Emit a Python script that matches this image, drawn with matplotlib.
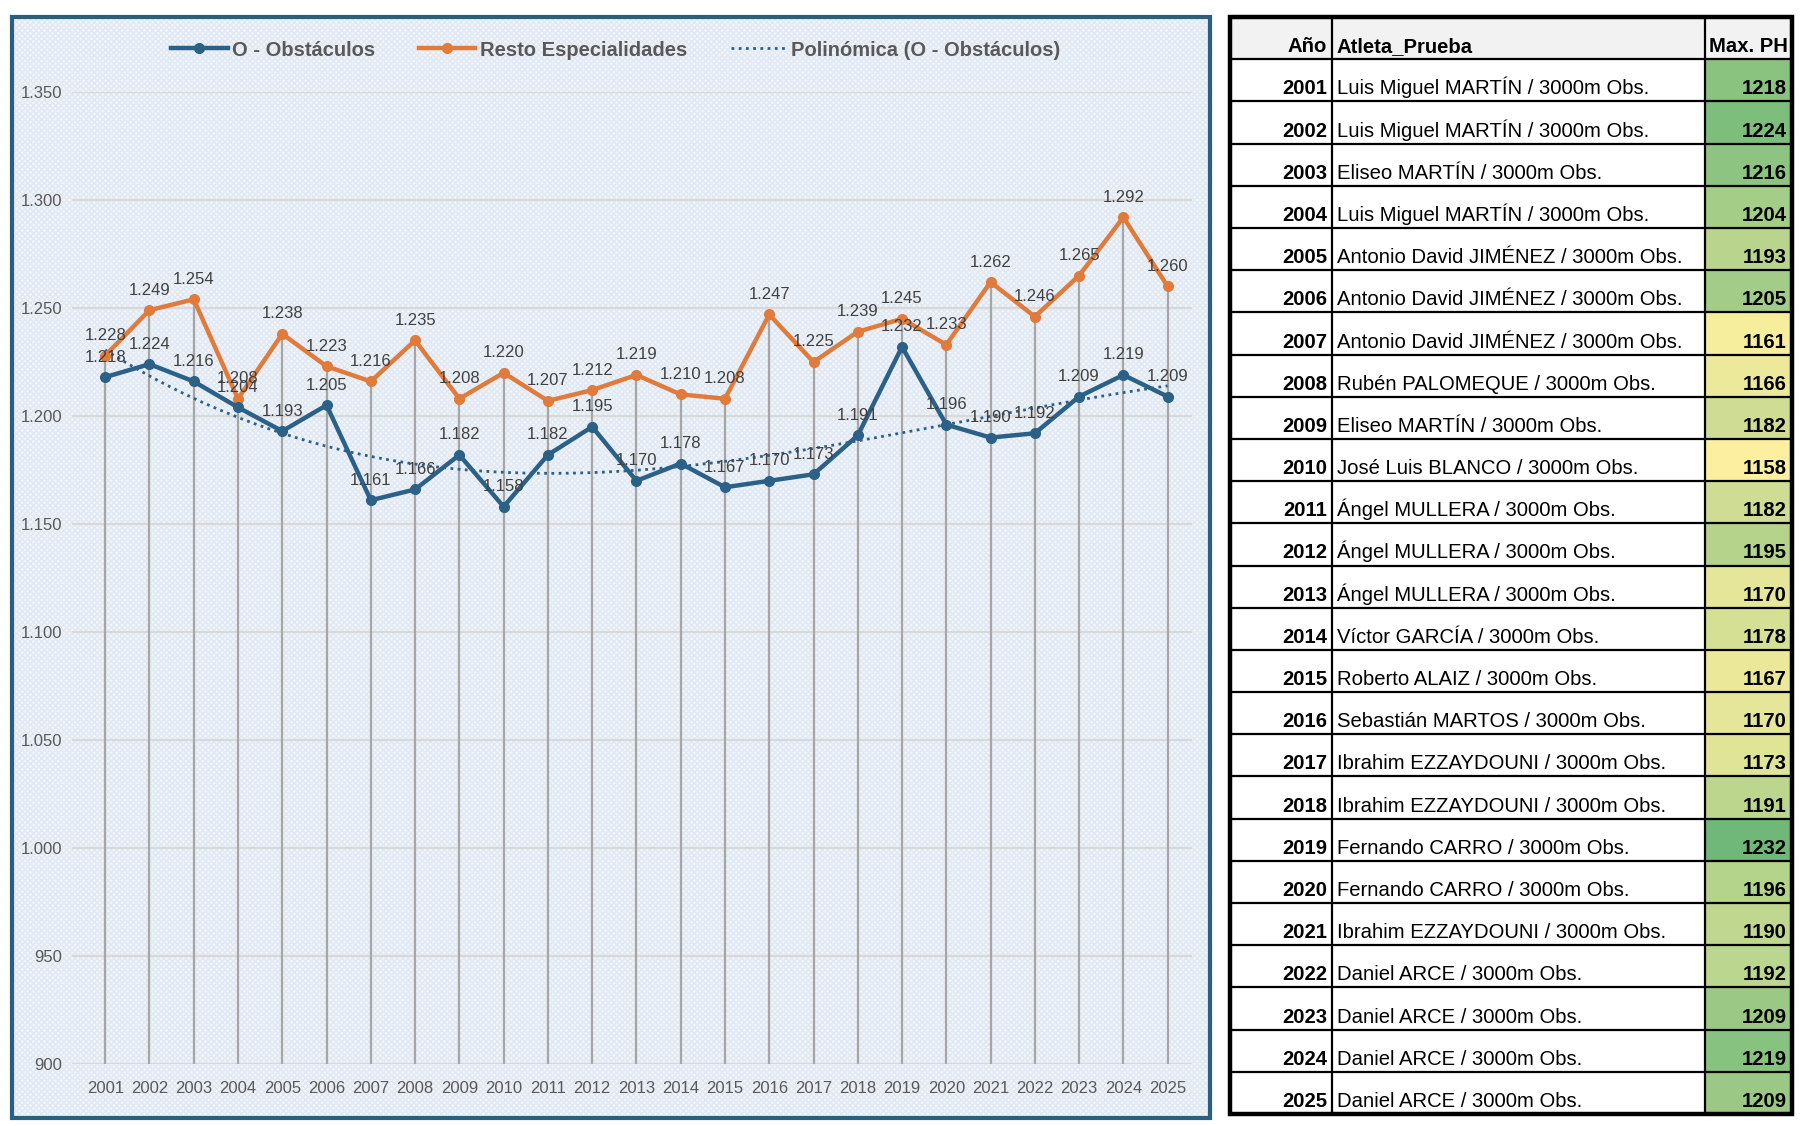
import numpy as np
import matplotlib.pyplot as plt
from matplotlib.patches import Rectangle
from matplotlib.lines import Line2D
from matplotlib.colors import to_rgb
from matplotlib.ticker import FuncFormatter

plt.rcParams['font.family'] = ['Liberation Sans', 'DejaVu Sans']

# Data
years = list(range(2001, 2026))
obstaculos = [1218, 1224, 1216, 1204, 1193, 1205, 1161, 1166, 1182, 1158,
              1182, 1195, 1170, 1178, 1167, 1170, 1173, 1191, 1232, 1196,
              1190, 1192, 1209, 1219, 1209]
resto = [1228, 1249, 1254, 1208, 1238, 1223, 1216, 1235, 1208, 1220,
         1207, 1212, 1219, 1210, 1208, 1247, 1225, 1239, 1245, 1233,
         1262, 1246, 1265, 1292, 1260]
atletas = [
    "Luis Miguel MARTÍN / 3000m Obs.",
    "Luis Miguel MARTÍN / 3000m Obs.",
    "Eliseo MARTÍN / 3000m Obs.",
    "Luis Miguel MARTÍN / 3000m Obs.",
    "Antonio David JIMÉNEZ / 3000m Obs.",
    "Antonio David JIMÉNEZ / 3000m Obs.",
    "Antonio David JIMÉNEZ / 3000m Obs.",
    "Rubén PALOMEQUE / 3000m Obs.",
    "Eliseo MARTÍN / 3000m Obs.",
    "José Luis BLANCO / 3000m Obs.",
    "Ángel MULLERA / 3000m Obs.",
    "Ángel MULLERA / 3000m Obs.",
    "Ángel MULLERA / 3000m Obs.",
    "Víctor GARCÍA / 3000m Obs.",
    "Roberto ALAIZ / 3000m Obs.",
    "Sebastián MARTOS / 3000m Obs.",
    "Ibrahim EZZAYDOUNI / 3000m Obs.",
    "Ibrahim EZZAYDOUNI / 3000m Obs.",
    "Fernando CARRO / 3000m Obs.",
    "Fernando CARRO / 3000m Obs.",
    "Ibrahim EZZAYDOUNI / 3000m Obs.",
    "Daniel ARCE / 3000m Obs.",
    "Daniel ARCE / 3000m Obs.",
    "Daniel ARCE / 3000m Obs.",
    "Daniel ARCE / 3000m Obs.",
]
legend_labels = ["O - Obstáculos", "Resto Especialidades", "Polinómica (O - Obstáculos)"]
table_header = ["Año", "Atleta_Prueba", "Max. PH"]

BLUE = '#2C6187'
ORANGE = '#E07B3C'
W, H = 1806, 1126


def thousands(v):
    return f"{int(round(v)):,}".replace(',', '.')


fig = plt.figure(figsize=(W / 100, H / 100), dpi=100)

# background layer (pixel coordinates, y down)
bg = fig.add_axes([0, 0, 1, 1])
bg.set_xlim(0, W)
bg.set_ylim(H, 0)
bg.axis('off')

bg.add_patch(Rectangle((12, 17), 1198, 1101, facecolor='#F1F5FA',
                       edgecolor='none', zorder=0))
bg.add_patch(Rectangle((12, 17), 1198, 1101, facecolor='none', hatch='xxxxxx',
                       edgecolor='#E0E8F3', linewidth=0, zorder=0.5))
bg.add_patch(Rectangle((12, 17), 1198, 1101, facecolor='none',
                       edgecolor='#2C5F7F', linewidth=3, zorder=1))

# table
t_left, c1, c2, t_right = 1230, 1332, 1705, 1792
t_top, t_bot = 17, 1114
n_rows = len(years) + 1
rh = (t_bot - t_top) / n_rows

vmin, vmax = min(obstaculos), max(obstaculos)
c_low, c_high = np.array(to_rgb('#FCEF9F')), np.array(to_rgb('#6FB879'))

bg.add_patch(Rectangle((t_left, t_top), t_right - t_left, rh,
                       facecolor='#F2F2F2', edgecolor='none'))
for i, v in enumerate(obstaculos):
    f = (v - vmin) / (vmax - vmin)
    col = (1 - f) * c_low + f * c_high
    bg.add_patch(Rectangle((c2, t_top + (i + 1) * rh), t_right - c2, rh,
                           facecolor=col, edgecolor='none'))

for r in range(1, n_rows):
    y = t_top + r * rh
    bg.plot([t_left, t_right], [y, y], color='black', lw=1.6)
for xv in (c1, c2):
    bg.plot([xv, xv], [t_top, t_bot], color='black', lw=1.6)
bg.add_patch(Rectangle((t_left, t_top), t_right - t_left, t_bot - t_top,
                       facecolor='none', edgecolor='black', linewidth=3.2))

fs_tab = 14.6
y0 = t_top + rh - 7
bg.text(c1 - 5, y0, table_header[0], ha='right', va='baseline',
        fontsize=fs_tab, fontweight='bold')
bg.text(c1 + 5, y0, table_header[1], ha='left', va='baseline',
        fontsize=fs_tab, fontweight='bold')
bg.text(t_right - 4, y0, table_header[2], ha='right', va='baseline',
        fontsize=fs_tab, fontweight='bold')
for i, (yr, name, v) in enumerate(zip(years, atletas, obstaculos)):
    yb = t_top + (i + 2) * rh - 7
    bg.text(c1 - 5, yb, str(yr), ha='right', va='baseline',
            fontsize=fs_tab, fontweight='bold')
    bg.text(c1 + 5, yb, name, ha='left', va='baseline', fontsize=fs_tab)
    bg.text(t_right - 5, yb, str(v), ha='right', va='baseline',
            fontsize=fs_tab, fontweight='bold')

# chart
ax = fig.add_axes([72 / W, 1 - 1064 / H, 1120 / W, 972 / H])
ax.set_facecolor('none')
x = np.arange(len(years))
ax.set_xlim(-0.75, len(years) - 0.45)
ax.set_ylim(900, 1350)

ax.set_yticks(range(900, 1351, 50))
ax.yaxis.set_major_formatter(FuncFormatter(lambda v, p: thousands(v)))
ax.set_xticks(x)
ax.set_xticklabels([str(y) for y in years])
ax.tick_params(axis='both', length=0, labelsize=12, labelcolor='#595959')
ax.tick_params(axis='x', pad=12)
ax.tick_params(axis='y', pad=7)
ax.grid(axis='y', color='#D9D9D9', lw=1.6)
ax.set_axisbelow(True)
for s in ax.spines.values():
    s.set_visible(False)

ax.vlines(x, 900, np.maximum(obstaculos, resto), color='#A6A6A6', lw=1.6, zorder=1)

coef = np.polyfit(x, obstaculos, 3)
xs = np.linspace(0, len(years) - 1, 300)
ax.plot(xs, np.polyval(coef, xs), color=BLUE, lw=2, ls=(0, (1, 1.6)), zorder=2)

ax.plot(x, resto, color=ORANGE, lw=3.2, marker='o', ms=7, zorder=3)
ax.plot(x, obstaculos, color=BLUE, lw=3.2, marker='o', ms=7, zorder=4)

for xi, v in zip(x, resto):
    ax.annotate(thousands(v), (xi, v), xytext=(0, 9), textcoords='offset points',
                ha='center', va='bottom', fontsize=12, color='#404040', zorder=5)
for xi, v in zip(x, obstaculos):
    ax.annotate(thousands(v), (xi, v), xytext=(0, 9), textcoords='offset points',
                ha='center', va='bottom', fontsize=12, color='#404040', zorder=5)

handles = [
    Line2D([], [], color=BLUE, lw=3.2, marker='o', ms=7),
    Line2D([], [], color=ORANGE, lw=3.2, marker='o', ms=7),
    Line2D([], [], color=BLUE, lw=2, ls=(0, (1, 1.6))),
]
fig.legend(handles, legend_labels, loc='center', bbox_to_anchor=(616 / W, 1 - 50 / H),
           ncol=3, frameon=False, prop={'weight': 'bold', 'size': 14.5},
           labelcolor='#595959', handlelength=2.8, columnspacing=2.2,
           handletextpad=0.2)

fig.savefig('out.png', dpi=100)
